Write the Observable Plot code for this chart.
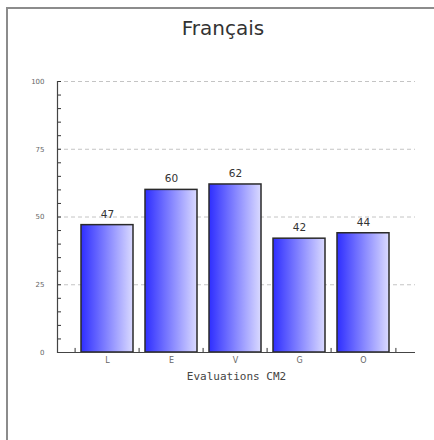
<!DOCTYPE html>
<html><head><meta charset="utf-8">
<script src="https://cdn.jsdelivr.net/npm/d3@7"></script>
<script src="https://cdn.jsdelivr.net/npm/@observablehq/plot@0.6"></script>
<style>
body{margin:0;background:#fff;}
#wrap{position:relative;width:434px;height:440px;overflow:hidden;background:#fff;}
#frame{position:absolute;left:6px;top:7px;width:440px;height:440px;border-top:2px solid #8c8c8c;border-left:2px solid #8c8c8c;}
#title{position:absolute;top:16px;left:0;width:446px;text-align:center;font:20px "DejaVu Sans";color:#333;}
#chart{position:absolute;left:0;top:0;}
</style></head>
<body><div id="wrap"><div id="frame"></div><div id="title"></div><div id="chart"></div></div>
<script>
const title = "Français";
const xTitle = "Evaluations CM2";
const categories = ["L", "E", "V", "G", "O"];
const scores = [47, 60, 62, 42, 44];
const yTicks = [0, 25, 50, 75, 100];
const gridTicks = [25, 50, 75, 100];
const minorTicks = [0, 5, 10, 15, 20, 25, 30, 35, 40, 45, 50, 55, 60, 65, 70, 75, 80, 85, 90, 95, 100];

document.getElementById("title").textContent = title;
const data = categories.map((c, i) => ({cat: c, score: scores[i]}));
const xRange = [73, 397];
const step = (xRange[1] - xRange[0]) / categories.length;
const lastCat = categories[categories.length - 1];

const chart = Plot.plot({
  width: 434, height: 440,
  marginTop: 81, marginBottom: 88, marginLeft: 57, marginRight: 19,
  style: {background: "transparent", fontFamily: "DejaVu Sans", overflow: "visible"},
  x: {domain: categories, range: xRange, paddingInner: 0.18, paddingOuter: 0.09, label: null},
  y: {domain: [0, 100], label: null},
  marks: [
    Plot.ruleY(gridTicks, {stroke: "#c4c4c4", strokeDasharray: "4,3"}),
    Plot.barY(data, {x: "cat", y: "score", fill: "url(#barGrad)", stroke: "#2a2a2a", strokeWidth: 1.5}),
    Plot.text(data, {x: "cat", y: "score", text: d => String(d.score), dy: -11, fontSize: 10.5, fill: "#333"}),
    Plot.ruleX(categories, {x: d => d, y1: 0, y2: 1.5, dx: -step / 2, stroke: "#333"}),
    Plot.ruleX([lastCat], {x: d => d, y1: 0, y2: 1.5, dx: step / 2, stroke: "#333"}),
    Plot.tickY(minorTicks, {y: d => d, insetRight: 434 - 57 - 19 - 4, stroke: "#333"}),
    Plot.ruleY([0], {stroke: "#444", strokeWidth: 1.2}),
    Plot.frame({anchor: "left", stroke: "#444", strokeWidth: 1.2}),
    Plot.axisY(yTicks, {tickSize: 0, tickPadding: 13, fontSize: 7, fill: "#666", label: null}),
    Plot.axisX({tickSize: 0, tickPadding: 5, fontSize: 8, fill: "#666", label: null}),
    Plot.text([xTitle], {frameAnchor: "bottom", dy: 27, fontFamily: "DejaVu Sans Mono", fontSize: 11, fill: "#444"})
  ]
});

const svg = d3.select(chart);
const defs = svg.insert("defs", ":first-child");
const g = defs.append("linearGradient").attr("id", "barGrad")
  .attr("x1", 0).attr("x2", 1).attr("y1", 0).attr("y2", 0);
g.append("stop").attr("offset", "0%").attr("stop-color", "#2e2eff");
g.append("stop").attr("offset", "100%").attr("stop-color", "#dadaff");
document.getElementById("chart").appendChild(chart);
</script>
</body></html>
